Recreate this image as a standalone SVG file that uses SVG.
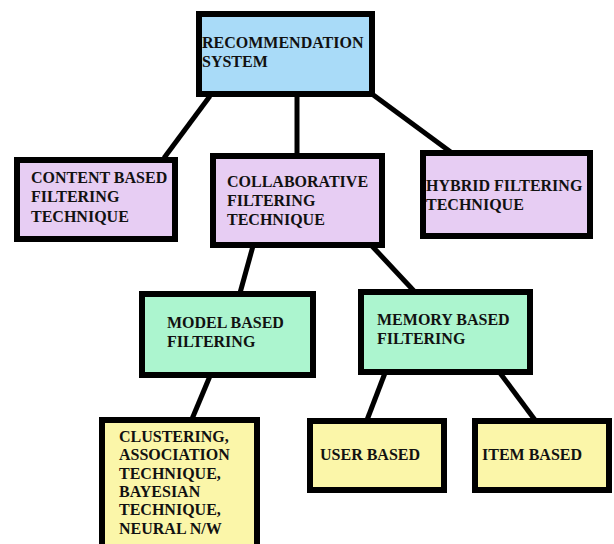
<svg xmlns="http://www.w3.org/2000/svg" width="614" height="544" viewBox="0 0 614 544">
<style>
.box{stroke:#000;stroke-width:6}
.blue{fill:#a9dbf8}
.purple{fill:#e7cdf3}
.green{fill:#acf5cf}
.yellow{fill:#fbf6a9}
.conn line{stroke:#000;stroke-width:5;stroke-linecap:butt}
text{font-family:"Liberation Serif","Times New Roman",serif;font-weight:bold;font-size:16px;fill:#111}
</style>
<rect width="614" height="544" fill="#fff"/>
<g id="connectors" class="conn">
<line x1="210" y1="96" x2="164" y2="158"/>
<line x1="297" y1="96" x2="297" y2="155"/>
<line x1="372" y1="94" x2="452" y2="153"/>
<line x1="253" y1="246" x2="240" y2="293"/>
<line x1="372" y1="246" x2="414" y2="291"/>
<line x1="210" y1="376" x2="192" y2="419"/>
<line x1="385" y1="373" x2="367" y2="420"/>
<line x1="500" y1="373" x2="535" y2="420"/>
</g>
<g id="root">
<rect class="box blue" x="199" y="14" width="173" height="80"/>
<text x="202" y="48">RECOMMENDATION</text>
<text x="202" y="67">SYSTEM</text>
</g>
<g id="content">
<rect class="box purple" x="17" y="160" width="158" height="79"/>
<text x="31" y="183">CONTENT BASED</text>
<text x="31" y="202">FILTERING</text>
<text x="31" y="222">TECHNIQUE</text>
</g>
<g id="collaborative">
<rect class="box purple" x="213" y="156" width="169" height="89"/>
<text x="227" y="187">COLLABORATIVE</text>
<text x="227" y="206">FILTERING</text>
<text x="227" y="225">TECHNIQUE</text>
</g>
<g id="hybrid">
<rect class="box purple" x="423" y="153" width="167" height="83"/>
<text x="426" y="191">HYBRID FILTERING</text>
<text x="426" y="210">TECHNIQUE</text>
</g>
<g id="model">
<rect class="box green" x="142" y="294" width="171" height="81"/>
<text x="167" y="328">MODEL BASED</text>
<text x="167" y="347">FILTERING</text>
</g>
<g id="memory">
<rect class="box green" x="361" y="292" width="169" height="80"/>
<text x="377" y="325">MEMORY BASED</text>
<text x="377" y="344">FILTERING</text>
</g>
<g id="clustering">
<rect class="box yellow" x="102" y="420" width="155" height="140"/>
<text x="119" y="442">CLUSTERING,</text>
<text x="119" y="460">ASSOCIATION</text>
<text x="119" y="479">TECHNIQUE,</text>
<text x="119" y="497">BAYESIAN</text>
<text x="119" y="515">TECHNIQUE,</text>
<text x="119" y="534">NEURAL N/W</text>
</g>
<g id="user">
<rect class="box yellow" x="310" y="421" width="134" height="69"/>
<text x="320" y="460">USER BASED</text>
</g>
<g id="item">
<rect class="box yellow" x="475" y="421" width="134" height="69"/>
<text x="482" y="460">ITEM BASED</text>
</g>
</svg>
